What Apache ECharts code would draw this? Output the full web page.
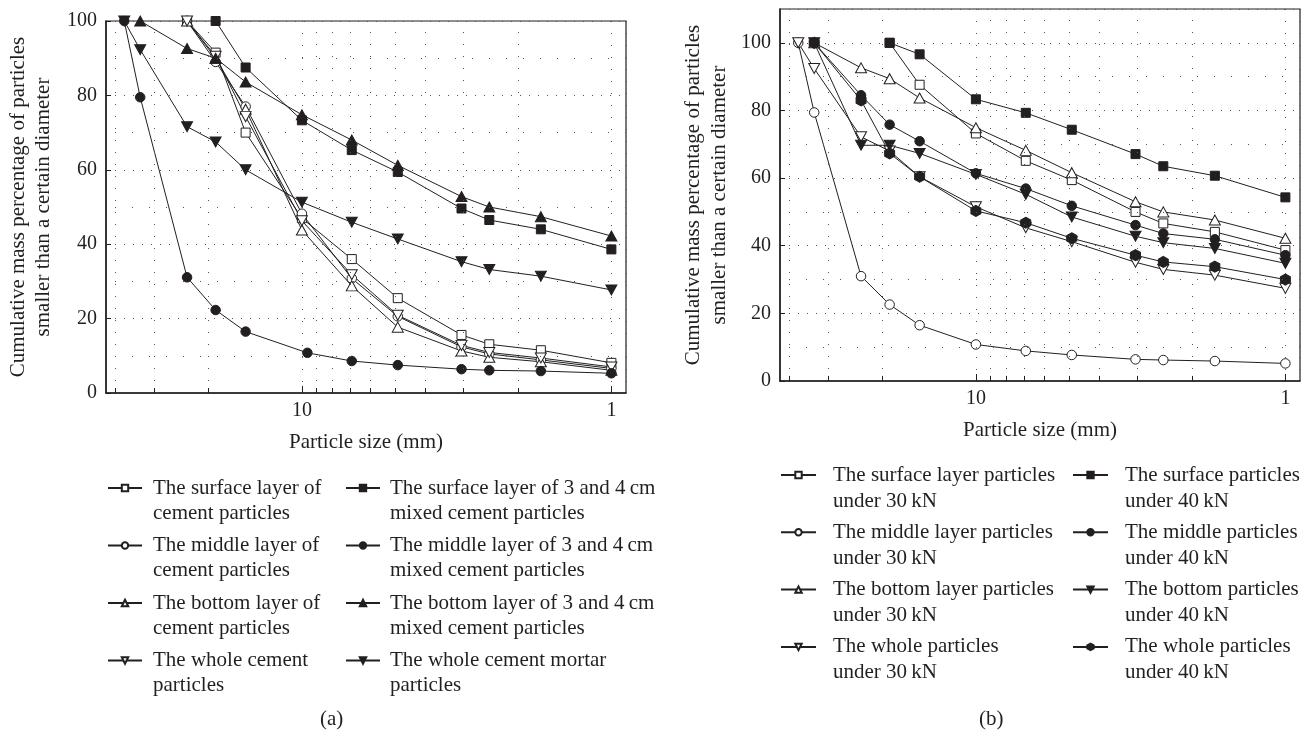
<!DOCTYPE html>
<html><head><meta charset="utf-8">
<script src="https://cdn.jsdelivr.net/npm/echarts@6/dist/echarts.min.js"></script>
<style>html,body{margin:0;padding:0;background:#fff}#c{width:1312px;height:736px}</style>
</head><body><div id="c"></div><script>
// ---------- data ----------
const sizes = [37.5, 33.3, 23.5, 19, 15.2, 10, 6.9, 4.9, 3.05, 2.48, 1.69, 1];
const sizesMiddleMixed = [37.5, 33.3, 23.5, 19, 15.2, 9.6, 6.9, 4.9, 3.05, 2.48, 1.69, 1];
const minorXGrid = [40, 30, 20, 9, 8, 7, 6, 5, 4, 3, 2];
const minorYGrid = [10, 30, 50, 70, 90];
const yStep = 20;

// panel (a)
const aSurfaceCement = [null, null, 100, 91.5, 70, 47, 36, 25.5, 15.6, 13.1, 11.5, 8.1];
const aMiddleCement  = [null, null, 100, 89, 77, 48.2, 30.8, 20.6, 12.4, 10.5, 8.9, 6.6];
const aBottomCement  = [null, null, 100, 90, 76.3, 43.8, 28.8, 17.7, 11.3, 9.6, 8.4, 6.1];
const aWholeCement   = [null, null, 100, 90.5, 74.3, 46.3, 31.8, 20.9, 12.8, 10.9, 9.4, 7];
const aSurfaceMixed  = [null, null, null, 100, 87.5, 73.3, 65.3, 59.4, 49.6, 46.5, 44, 38.6];
const aMiddleMixed   = [100, 79.5, 31.1, 22.3, 16.5, 10.8, 8.6, 7.5, 6.4, 6.1, 5.9, 5.3];
const aBottomMixed   = [null, 100, 92.6, 90, 83.6, 74.8, 68, 61.2, 52.8, 50, 47.4, 42.2];
const aWholeMortar   = [100, 92.3, 71.6, 67.5, 60, 51.3, 45.9, 41.4, 35.3, 33.2, 31.4, 27.7];

// panel (b)
const bSurface30 = [null, null, null, 100, 87.6, 73.2, 65.1, 59.4, 50, 46.6, 44.1, 38.7];
const bMiddle30  = [100, 79.4, 31, 22.6, 16.5, 10.8, 8.9, 7.7, 6.4, 6.2, 5.9, 5.2];
const bBottom30  = [null, 100, 92.6, 89.4, 83.7, 74.9, 68.2, 61.6, 53, 50, 47.6, 42.2];
const bWhole30   = [100, 92.4, 72.2, 68, 60.4, 51.5, 45.3, 41.2, 35.1, 33, 31.3, 27.4];
const bSurface40 = [null, null, null, 100, 96.6, 83.3, 79.3, 74.3, 67.1, 63.5, 60.7, 54.3];
const bMiddle40  = [null, 100, 84.5, 75.8, 70.9, 61.4, 56.9, 51.8, 46.1, 43.6, 41.9, 37.2];
const bBottom40  = [null, 100, 69.7, 69.7, 67.3, 61.1, 55.2, 48.5, 42.8, 40.9, 39.2, 34.8];
const bWhole40   = [null, 100, 83, 67.3, 60.4, 50.3, 46.8, 42.2, 37.2, 35.2, 33.8, 30];

const aNames = [
  'The surface layer of\ncement particles',
  'The middle layer of\ncement particles',
  'The bottom layer of\ncement particles',
  'The whole cement\nparticles',
  'The surface layer of 3 and 4\u2009cm\nmixed cement particles',
  'The middle layer of 3 and 4\u2009cm\nmixed cement particles',
  'The bottom layer of 3 and 4\u2009cm\nmixed cement particles',
  'The whole cement mortar\nparticles'
];
const bNames = [
  'The surface layer particles\nunder 30\u2009kN',
  'The middle layer particles\nunder 30\u2009kN',
  'The bottom layer particles\nunder 30\u2009kN',
  'The whole particles\nunder 30\u2009kN',
  'The surface particles\nunder 40\u2009kN',
  'The middle particles\nunder 40\u2009kN',
  'The bottom particles\nunder 40\u2009kN',
  'The whole particles\nunder 40\u2009kN'
];

// ---------- styling ----------
const FONT = 'Liberation Serif';
const INK = '#231f20';
const DOWN = 'path://M0,0L2,0L1,1.732Z';
const HEX = 'path://M1,0L1.866,0.5L1.866,1.5L1,2L0.134,1.5L0.134,0.5Z';
const markers = {
  square: {symbol: 'rect', size: 9},
  circle: {symbol: 'circle', size: 9.5},
  up: {symbol: 'triangle', size: [11, 10]},
  down: {symbol: DOWN, size: [11, 10]},
  hex: {symbol: HEX, size: [10, 11]}
};

function pairs(xs, ys) {
  const out = [];
  ys.forEach((v, i) => { if (v !== null) out.push([xs[i], v]); });
  return out;
}
function mkSeries(name, xs, ys, mk, filled, gridIdx, extra) {
  const m = markers[mk];
  return Object.assign({
    type: 'line', name: name, xAxisIndex: gridIdx, yAxisIndex: gridIdx,
    data: pairs(xs, ys), symbol: m.symbol, symbolSize: m.size, showSymbol: true,
    lineStyle: {color: INK, width: 1},
    itemStyle: filled ? {color: INK, borderColor: INK, borderWidth: 1}
                      : {color: '#fff', borderColor: INK, borderWidth: 1},
    emphasis: {disabled: true}, silent: true, animation: false
  }, extra || {});
}
function gridMarks(tickLen) {
  const data = [];
  minorXGrid.forEach(v => data.push({xAxis: v, lineStyle: {type: [1, 11], color: '#555', width: 1}}));
  minorYGrid.forEach(v => data.push({yAxis: v, lineStyle: {type: [1, 16], color: '#555', width: 1}}));
  minorXGrid.forEach(v => data.push([{coord: [v, 0], lineStyle: {type: 'solid', color: INK, width: 1}}, {coord: [v, tickLen]}]));
  return {markLine: {silent: true, symbol: ['none', 'none'], label: {show: false}, animation: false, data: data}};
}
function xAxisDef(gridIdx) {
  return {
    type: 'log', logBase: 10, gridIndex: gridIdx, inverse: true, min: 0.897, max: 42.95,
    name: 'Particle size (mm)', nameLocation: 'middle', nameGap: 39,
    nameTextStyle: {fontFamily: FONT, fontSize: 21, color: INK},
    axisLine: {onZero: false, lineStyle: {color: INK, width: 1.5}},
    axisTick: {inside: true, length: 7, lineStyle: {color: INK}},
    axisLabel: {fontFamily: FONT, fontSize: 20, color: INK, margin: 8, showMinLabel: false, showMaxLabel: false},
    splitLine: {show: true, lineStyle: {type: [1, 11], color: '#555'}}
  };
}
function yAxisDef(gridIdx, max, nameGap) {
  return {
    type: 'value', gridIndex: gridIdx, min: 0, max: max, interval: yStep,
    name: 'Cumulative mass percentage of particles\nsmaller than a certain diameter',
    nameLocation: 'middle', nameGap: nameGap,
    nameTextStyle: {fontFamily: FONT, fontSize: 21, lineHeight: gridIdx === 0 ? 25 : 26.5, color: INK},
    axisLine: {show: true, lineStyle: {color: INK, width: 1.5}},
    axisTick: {show: true, inside: true, length: 5, lineStyle: {color: INK}},
    axisLabel: {fontFamily: FONT, fontSize: 20, color: INK, margin: 9, showMaxLabel: max === 100},
    splitLine: {show: true, lineStyle: {type: [1, 8], color: '#555'}}
  };
}
// leading blank line keeps the symbol level with the first text line
function legendDef(names, left, top, lh, gap, iw, padLeft) {
  return {
    orient: 'vertical', left: left, top: top, padding: 0, itemGap: gap,
    itemWidth: iw, itemHeight: 8, selectedMode: false, data: names,
    formatter: n => ' \n' + n,
    textStyle: {fontFamily: FONT, fontSize: 21, lineHeight: lh, color: INK, padding: [0, 0, 0, padLeft]}
  };
}

const series = [
  mkSeries(aNames[0], sizes, aSurfaceCement, 'square', false, 0, gridMarks(1.35)),
  mkSeries(aNames[1], sizes, aMiddleCement, 'circle', false, 0),
  mkSeries(aNames[2], sizes, aBottomCement, 'up', false, 0),
  mkSeries(aNames[3], sizes, aWholeCement, 'down', false, 0),
  mkSeries(aNames[4], sizes, aSurfaceMixed, 'square', true, 0),
  mkSeries(aNames[5], sizesMiddleMixed, aMiddleMixed, 'circle', true, 0),
  mkSeries(aNames[6], sizes, aBottomMixed, 'up', true, 0),
  mkSeries(aNames[7], sizes, aWholeMortar, 'down', true, 0),
  mkSeries(bNames[0], sizes, bSurface30, 'square', false, 1, gridMarks(1.5)),
  mkSeries(bNames[1], sizes, bMiddle30, 'circle', false, 1),
  mkSeries(bNames[2], sizes, bBottom30, 'up', false, 1),
  mkSeries(bNames[3], sizes, bWhole30, 'down', false, 1),
  mkSeries(bNames[4], sizes, bSurface40, 'square', true, 1),
  mkSeries(bNames[5], sizes, bMiddle40, 'circle', true, 1),
  mkSeries(bNames[6], sizes, bBottom40, 'down', true, 1),
  mkSeries(bNames[7], sizes, bWhole40, 'hex', true, 1)
];

const chart = echarts.init(document.getElementById('c'), null, {renderer: 'canvas'});
chart.setOption({
  animation: false,
  backgroundColor: '#fff',
  grid: [
    {left: 106, top: 21, width: 520, height: 372, show: true, borderColor: INK, borderWidth: 1.2, backgroundColor: 'transparent'},
    {left: 780, top: 9, width: 520, height: 372, show: true, borderColor: INK, borderWidth: 1.2, backgroundColor: 'transparent'}
  ],
  xAxis: [xAxisDef(0), xAxisDef(1)],
  yAxis: [yAxisDef(0, 100, 50), yAxisDef(1, 110, 47)],
  legend: [
    legendDef(aNames.slice(0, 4), 107, 450.5, 25, -17.5, 34, 6),
    legendDef(aNames.slice(4), 345, 450.5, 25, -17.5, 34, 5),
    legendDef(bNames.slice(0, 4), 780, 436, 26, -20.7, 35, 12),
    legendDef(bNames.slice(4), 1072, 436, 26, -20.7, 35, 12)
  ],
  graphic: [
    {type: 'text', left: 320, top: 709, style: {text: '(a)', font: '21px "Liberation Serif"', fill: INK}},
    {type: 'text', left: 979, top: 709, style: {text: '(b)', font: '21px "Liberation Serif"', fill: INK}}
  ],
  series: series
});
</script></body></html>
